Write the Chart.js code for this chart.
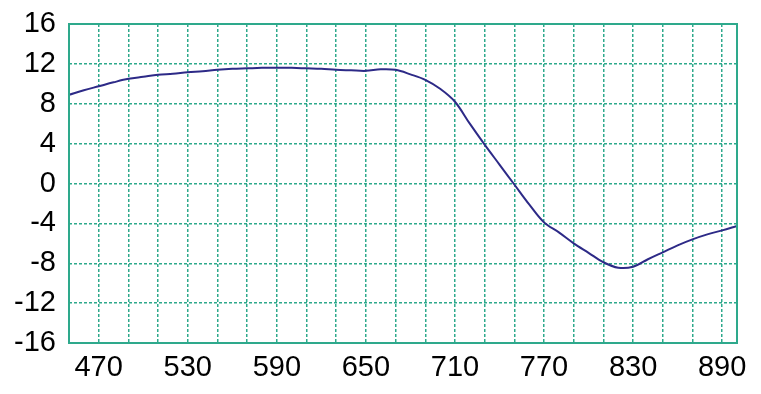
<!DOCTYPE html>
<html>
<head>
<meta charset="utf-8">
<script src="https://cdn.jsdelivr.net/npm/chart.js@4/dist/chart.umd.min.js"></script>
<style>
  html, body { margin: 0; padding: 0; background: #fff; }
  #wrap { width: 761px; height: 394px; }
</style>
</head>
<body>
<div id="wrap"><canvas id="myChart"></canvas></div>
<script>
// wavelength (x) and value (y)
const xValues = [450, 460, 470, 480, 490, 500, 510, 520, 530, 540, 550, 560, 570, 580, 590,
                 600, 610, 620, 630, 640, 650, 660, 670, 680, 690, 700, 710, 720, 730, 740,
                 750, 760, 770, 780, 790, 800, 810, 820, 830, 840, 850, 860, 870, 880, 890, 900];
const yValues = [8.9, 9.35, 9.75, 10.15, 10.5, 10.7, 10.9, 11.0, 11.15, 11.25, 11.4, 11.5, 11.55, 11.6, 11.6,
                 11.6, 11.55, 11.5, 11.4, 11.35, 11.3, 11.45, 11.4, 10.95, 10.4, 9.5, 8.2, 6.0, 3.9, 1.9,
                 -0.1, -2.1, -3.9, -4.9, -6.0, -6.95, -7.9, -8.45, -8.35, -7.6, -6.9, -6.2, -5.6, -5.1, -4.7, -4.25];

const xGridValues = [450, 470, 490, 510, 530, 550, 570, 590, 610, 630, 650, 670, 690, 710, 730,
                     750, 770, 790, 810, 830, 850, 870, 890, 900];
const xTickLabels = [470, 530, 590, 650, 710, 770, 830, 890];
const yTickLabels = [16, 12, 8, 4, 0, -4, -8, -12, -16];

const gridColor = '#2ea98c';

document.addEventListener('DOMContentLoaded', function() {
    const ctx = document.getElementById('myChart');

    // solid frame round the plot area
    const frame = {
        id: 'frame',
        afterDraw(chart) {
            const a = chart.chartArea;
            const c = chart.ctx;
            c.save();
            c.strokeStyle = gridColor;
            c.lineWidth = 2;
            c.setLineDash([]);
            c.strokeRect(a.left, a.top, a.right - a.left, a.bottom - a.top);
            c.restore();
        }
    };

    const config = {
        type: 'line',
        data: {
            datasets: [{
                data: xValues.map((x, i) => ({ x: x, y: yValues[i] })),
                borderColor: '#2d2a87',
                borderWidth: 2,
                pointRadius: 0,
                tension: 0.35,
                fill: false
            }]
        },
        plugins: [frame],
        options: {
            responsive: true,
            maintainAspectRatio: false,
            animation: false,
            layout: { padding: { top: 24, right: 24, left: 0, bottom: 0 } },
            plugins: { legend: { display: false }, tooltip: { enabled: false } },
            scales: {
                x: {
                    type: 'linear',
                    min: 450,
                    max: 900,
                    afterBuildTicks: (scale) => { scale.ticks = xGridValues.map(v => ({ value: v })); },
                    afterFit: (scale) => { scale.height = 51; scale.paddingLeft = 0; scale.paddingRight = 0; },
                    grid: { color: gridColor, lineWidth: 1.5, drawTicks: false },
                    border: { display: false, dash: [3, 2] },
                    ticks: {
                        autoSkip: false,
                        maxRotation: 0,
                        padding: 8,
                        color: '#000',
                        font: { family: "'Liberation Sans', Arial, sans-serif", size: 29 },
                        callback: (v) => xTickLabels.includes(v) ? String(v) : ''
                    }
                },
                y: {
                    min: -16,
                    max: 16,
                    afterFit: (scale) => { scale.width = 69; scale.paddingTop = 0; scale.paddingBottom = 0; },
                    grid: { color: gridColor, lineWidth: 1.5, drawTicks: false },
                    border: { display: false, dash: [3, 2] },
                    ticks: {
                        stepSize: 2,
                        padding: 13,
                        color: '#000',
                        font: { family: "'Liberation Sans', Arial, sans-serif", size: 29 },
                        callback: (v) => yTickLabels.includes(v) ? String(v) : ''
                    }
                }
            }
        }
    };

    new Chart(ctx, config);
});
</script>
</body>
</html>
